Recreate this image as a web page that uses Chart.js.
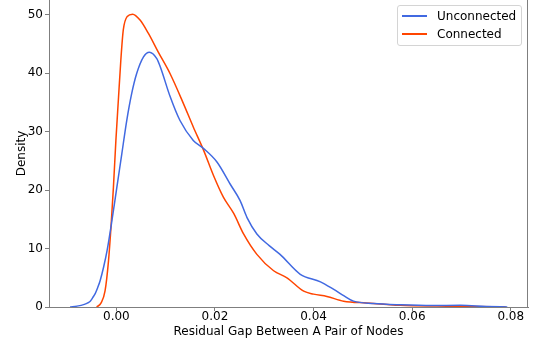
<!DOCTYPE html>
<html>
<head>
<meta charset="utf-8">
<script src="https://cdn.jsdelivr.net/npm/chart.js@4.4.1/dist/chart.umd.min.js"></script>
<style>
  html, body { margin: 0; padding: 0; background: #fff; }
  #wrap { position: relative; width: 534px; height: 345px; }
  #legend {
    position: absolute; left: 397px; top: 5px; width: 123px; height: 39px;
    border: 1px solid #d4d4d4; border-radius: 3px; background: rgba(255,255,255,0.8);
    font-family: "DejaVu Sans", sans-serif; font-size: 12px; color: #000;
  }
  .item { position: absolute; left: 0; height: 14px; line-height: 14px; }
  .swatch { position: absolute; left: 4px; width: 25px; height: 2px; }
  .lab { position: absolute; left: 39px; white-space: nowrap; }
</style>
</head>
<body>
<div id="wrap">
  <canvas id="c" width="534" height="345"></canvas>
  <div id="legend"></div>
</div>
<script>
// ---- data ----
const seriesNames = ["Unconnected", "Connected"];
const seriesColors = ["#4169e1", "#ff4500"];

const unconnectedX = [-0.0094, -0.0080, -0.0065, -0.0058, -0.0053, -0.0048, -0.0043, -0.0038, -0.0033, -0.0026, -0.0019, -0.0009, 0.0001, 0.0011, 0.0021, 0.0031, 0.0041, 0.0055, 0.0067, 0.0082, 0.0089, 0.0109, 0.0129, 0.0156, 0.0177, 0.0204, 0.0231, 0.0251, 0.0265, 0.0285, 0.0310, 0.0332, 0.0373, 0.0414, 0.0441, 0.0462, 0.0481, 0.0522, 0.0576, 0.0640, 0.0698, 0.0750, 0.0793];
const unconnectedY = [0, 0.15, 0.45, 0.7, 1.0, 1.6, 2.3, 3.3, 4.5, 6.8, 9.6, 14.8, 20.5, 26.2, 31.9, 36.5, 39.9, 42.8, 43.6, 42.5, 41.1, 36.0, 31.9, 28.5, 27.1, 24.8, 21.0, 18.2, 15.3, 12.5, 10.5, 9.0, 5.6, 4.3, 3.0, 1.9, 1.0, 0.6, 0.38, 0.25, 0.29, 0.1, 0];

const connectedX = [-0.0040, -0.0031, -0.0023, -0.0016, -0.0011, -0.0006, -0.0001, 0.0004, 0.0009, 0.0014, 0.0022, 0.0033, 0.0048, 0.0065, 0.0085, 0.0109, 0.0136, 0.0156, 0.0177, 0.0197, 0.0217, 0.0238, 0.0258, 0.0285, 0.0319, 0.0346, 0.0380, 0.0400, 0.0427, 0.0461, 0.0508, 0.0576, 0.0650, 0.0720, 0.0790];
const connectedY = [0, 0.7, 2.75, 7.9, 13.6, 20.5, 28.5, 35.4, 42.2, 47.4, 49.7, 50.1, 49.1, 46.8, 43.6, 39.9, 34.8, 30.8, 26.8, 22.5, 18.8, 16.0, 12.5, 9.0, 6.2, 5.0, 2.7, 2.2, 1.8, 1.0, 0.7, 0.3, 0.15, 0.08, 0];

const xTicks = [0.00, 0.02, 0.04, 0.06, 0.08];
const yTicks = [0, 10, 20, 30, 40, 50];
const xRange = [-0.01367, 0.0835];
const yRange = [0, 52.52];
const xTitle = "Residual Gap Between A Pair of Nodes";
const yTitle = "Density";

// ---- chart ----
const FONT = "DejaVu Sans";
const SPINE = "#7f7f7f";
const toPts = (xs, ys) => xs.map((x, i) => ({ x: x, y: ys[i] }));
const noPad = s => { s.paddingTop = 0; s.paddingBottom = 0; s.paddingLeft = 0; s.paddingRight = 0; };

const spinePlugin = {
  id: "spines",
  afterDraw(chart) {
    const { ctx, chartArea: a } = chart;
    ctx.save();
    ctx.strokeStyle = SPINE;
    ctx.lineWidth = 1;
    ctx.beginPath();
    ctx.moveTo(Math.round(a.right) - 0.5, a.top);
    ctx.lineTo(Math.round(a.right) - 0.5, a.bottom);
    ctx.stroke();
    ctx.restore();
  }
};

new Chart(document.getElementById("c"), {
  type: "line",
  data: {
    datasets: [
      { label: seriesNames[0], data: toPts(unconnectedX, unconnectedY), borderColor: seriesColors[0], borderWidth: 1.5, pointRadius: 0, cubicInterpolationMode: "monotone", fill: false },
      { label: seriesNames[1], data: toPts(connectedX, connectedY), borderColor: seriesColors[1], borderWidth: 1.5, pointRadius: 0, cubicInterpolationMode: "monotone", fill: false }
    ]
  },
  options: {
    responsive: false,
    devicePixelRatio: 1,
    animation: false,
    layout: { padding: { top: 0, right: 6, left: 0, bottom: 0 } },
    plugins: { legend: { display: false }, tooltip: { enabled: false } },
    scales: {
      x: {
        type: "linear",
        min: xRange[0], max: xRange[1],
        afterBuildTicks: s => { s.ticks = xTicks.map(v => ({ value: v })); },
        afterFit: s => { s.height = 38; noPad(s); },
        ticks: { font: { family: FONT, size: 12, lineHeight: 1 }, color: "#000", padding: 0, maxRotation: 0, autoSkip: false,
                 callback: v => v.toFixed(2) },
        grid: { drawOnChartArea: false, drawTicks: true, tickLength: 4, tickColor: SPINE },
        border: { display: true, color: SPINE, width: 1 },
        title: { display: true, text: xTitle, font: { family: FONT, size: 12 }, color: "#000", padding: { top: 0, bottom: 6 } }
      },
      y: {
        type: "linear",
        min: yRange[0], max: yRange[1],
        afterBuildTicks: s => { s.ticks = yTicks.map(v => ({ value: v })); },
        afterFit: s => { s.width = 49; noPad(s); },
        ticks: { font: { family: FONT, size: 12 }, color: "#000", padding: 2, autoSkip: false,
                 callback: v => String(v) },
        grid: { drawOnChartArea: false, drawTicks: true, tickLength: 4, tickColor: SPINE },
        border: { display: true, color: SPINE, width: 1 },
        title: { display: true, text: yTitle, font: { family: FONT, size: 12 }, color: "#000", padding: { top: 15, bottom: 0 } }
      }
    }
  },
  plugins: [spinePlugin]
});

// ---- legend (HTML text) ----
const legend = document.getElementById("legend");
seriesNames.forEach((name, i) => {
  const it = document.createElement("div");
  it.className = "item";
  it.style.top = (i === 0 ? 3 : 21) + "px";
  it.style.width = "100%";
  const sw = document.createElement("div");
  sw.className = "swatch";
  sw.style.top = "6px";
  sw.style.backgroundColor = seriesColors[i];
  const lab = document.createElement("div");
  lab.className = "lab";
  lab.textContent = name;
  it.appendChild(sw); it.appendChild(lab);
  legend.appendChild(it);
});
</script>
</body>
</html>
